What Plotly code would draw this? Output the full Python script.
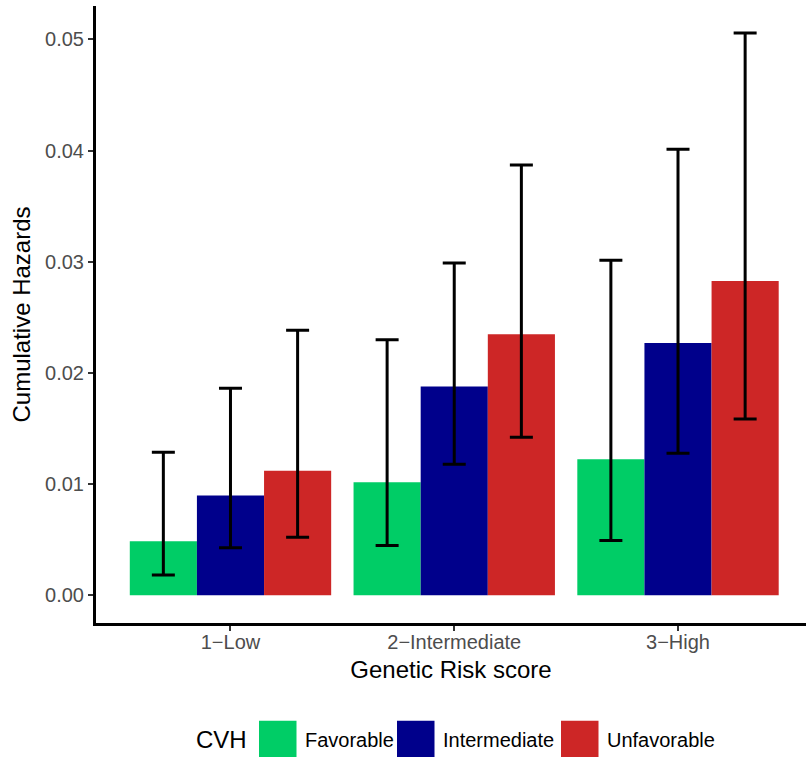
import plotly.graph_objects as go

# Data: cumulative hazards by genetic risk score and CVH group
risk_groups = ["1\u2212Low", "2\u2212Intermediate", "3\u2212High"]
cvh_levels = ["Favorable", "Intermediate", "Unfavorable"]

hazard_favorable = [0.00485, 0.01015, 0.01222]
hazard_intermediate = [0.00897, 0.01878, 0.02268]
hazard_unfavorable = [0.01120, 0.02348, 0.02826]

lower_favorable = [0.00182, 0.00448, 0.00491]
lower_intermediate = [0.00428, 0.01177, 0.01277]
lower_unfavorable = [0.00521, 0.01421, 0.01584]

upper_favorable = [0.01286, 0.02297, 0.03014]
upper_intermediate = [0.01861, 0.02988, 0.04011]
upper_unfavorable = [0.02383, 0.03870, 0.05058]

y_ticks = [0.00, 0.01, 0.02, 0.03, 0.04, 0.05]
y_tick_labels = ["0.00", "0.01", "0.02", "0.03", "0.04", "0.05"]

colors = {"Favorable": "#00CD66", "Intermediate": "#00008B", "Unfavorable": "#CD2626"}

series = {
    "Favorable": (hazard_favorable, lower_favorable, upper_favorable),
    "Intermediate": (hazard_intermediate, lower_intermediate, upper_intermediate),
    "Unfavorable": (hazard_unfavorable, lower_unfavorable, upper_unfavorable),
}

FONT = "Liberation Sans, Arial, sans-serif"
W, H = 806, 757
ML, MR, MT, MB = 96, 0, 6, 134

fig = go.Figure()
for name in cvh_levels:
    vals, lo, hi = series[name]
    fig.add_trace(go.Bar(
        x=risk_groups,
        y=vals,
        name=name,
        marker=dict(color=colors[name], line=dict(width=0)),
        error_y=dict(
            type="data",
            symmetric=False,
            array=[h - v for h, v in zip(hi, vals)],
            arrayminus=[v - l for v, l in zip(vals, lo)],
            color="black",
            thickness=3,
            width=11.5,
        ),
        showlegend=False,
    ))

# Custom legend at the bottom (large square keys)
plot_w = W - ML - MR
plot_h = H - MT - MB


def px_x(px):
    return (px - ML) / plot_w


def px_y(py):
    return (H - MB - py) / plot_h


key_left = [259, 397, 561]
key_size = 37.5
key_top = 720.7
shapes = []
annotations = []
for name, left in zip(cvh_levels, key_left):
    shapes.append(dict(
        type="rect", xref="paper", yref="paper",
        x0=px_x(left), x1=px_x(left + key_size),
        y0=px_y(key_top + key_size), y1=px_y(key_top),
        fillcolor=colors[name], line=dict(width=0), layer="above",
    ))
    annotations.append(dict(
        text=name, xref="paper", yref="paper",
        x=px_x(left + key_size + 6), y=px_y(739.5),
        xanchor="left", yanchor="middle", showarrow=False,
        font=dict(family=FONT, size=20, color="black"),
    ))
annotations.append(dict(
    text="CVH", xref="paper", yref="paper",
    x=px_x(221), y=px_y(739.5),
    xanchor="center", yanchor="middle", showarrow=False,
    font=dict(family=FONT, size=24, color="black"),
))

fig.update_layout(
    width=W, height=H,
    margin=dict(l=ML, r=MR, t=MT, b=MB, pad=0),
    paper_bgcolor="white", plot_bgcolor="white",
    barmode="group", bargap=0.1, bargroupgap=0,
    font=dict(family=FONT),
    shapes=shapes,
    annotations=annotations,
    xaxis=dict(
        range=[-0.601, 2.572],
        showline=True, linecolor="black", linewidth=3,
        ticks="outside", ticklen=5, tickwidth=2, tickcolor="#333333",
        tickfont=dict(family=FONT, size=20, color="#4D4D4D"),
        ticklabelstandoff=-6,
        showgrid=False, zeroline=False,
        title=dict(text="Genetic Risk score", standoff=10,
                   font=dict(family=FONT, size=24, color="black")),
    ),
    yaxis=dict(
        range=[-0.0025, 0.0530],
        tickvals=y_ticks, ticktext=y_tick_labels,
        showline=True, linecolor="black", linewidth=3,
        ticks="outside", ticklen=5, tickwidth=2, tickcolor="#333333",
        tickfont=dict(family=FONT, size=20, color="#4D4D4D"),
        showgrid=False, zeroline=False,
        title=dict(text="Cumulative Hazards", standoff=8,
                   font=dict(family=FONT, size=24, color="black")),
    ),
)

fig.write_html("out.html")
